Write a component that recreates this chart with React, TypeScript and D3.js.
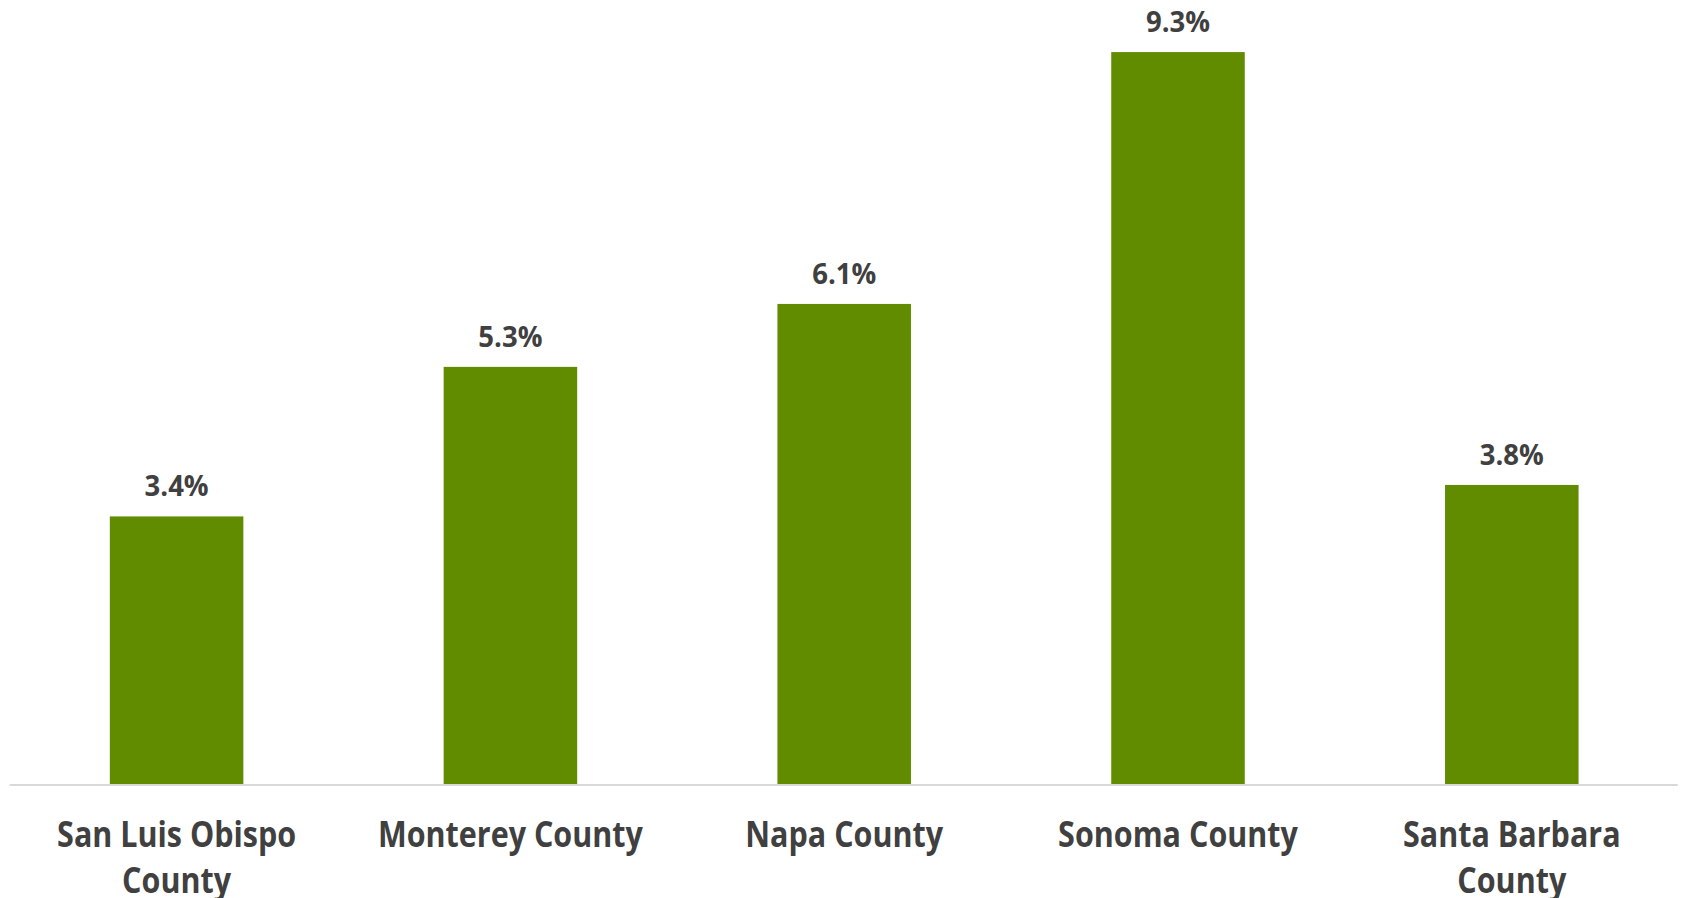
import React from "react";
import * as d3 from "d3";

const categories: string[][] = [
  ["San Luis Obispo", "County"],
  ["Monterey County"],
  ["Napa County"],
  ["Sonoma County"],
  ["Santa Barbara", "County"],
];
const values: number[] = [3.4, 5.3, 6.1, 9.3, 3.8];
const valueLabels: string[] = ["3.4%", "5.3%", "6.1%", "9.3%", "3.8%"];

const W = 1683;
const H = 898;
const FONT = "'Open Sans', Lato, sans-serif";
const TEXT = "#404040";
const BAR = "#618C00";

export default function App() {
  const baseY = 784;
  const x = d3
    .scaleBand<number>()
    .domain(d3.range(values.length))
    .range([9.7, 1678.7])
    .paddingInner(0.6)
    .paddingOuter(0.3);
  const y = d3.scaleLinear().domain([0, 10]).range([baseY, baseY - 787]);

  return (
    <div style={{ position: "absolute", left: 0, top: 0, width: W, height: H, background: "#fff" }}>
      <svg width={W} height={H} style={{ display: "block" }}>
        <rect x={0} y={0} width={W} height={H} fill="#fff" />
        {values.map((v, i) => (
          <rect
            key={"b" + i}
            x={x(i)!}
            y={y(v)}
            width={x.bandwidth()}
            height={y(0) - y(v)}
            fill={BAR}
          />
        ))}
        <line
          x1={x.range()[0]}
          x2={x.range()[1] - 1}
          y1={baseY + 1}
          y2={baseY + 1}
          stroke="#D9D9D9"
          strokeWidth={2}
        />
        {values.map((v, i) => (
          <text
            key={"v" + i}
            transform={`translate(${x(i)! + x.bandwidth() / 2},${y(v) - 20}) scale(1,1.04)`}
            textAnchor="middle"
            fontFamily={FONT}
            fontWeight={700}
            fontSize={27.5}
            fill={TEXT}
          >
            {valueLabels[i]}
          </text>
        ))}
        {categories.map((lines, i) =>
          lines.map((ln, j) => (
            <text
              key={"c" + i + "-" + j}
              transform={`translate(${x(i)! + x.bandwidth() / 2},${847 + j * 46}) scale(1,1.2)`}
              textAnchor="middle"
              fontFamily={FONT}
              fontWeight={700}
              fontSize={30.5}
              fill={TEXT}
            >
              {ln}
            </text>
          ))
        )}
      </svg>
    </div>
  );
}
